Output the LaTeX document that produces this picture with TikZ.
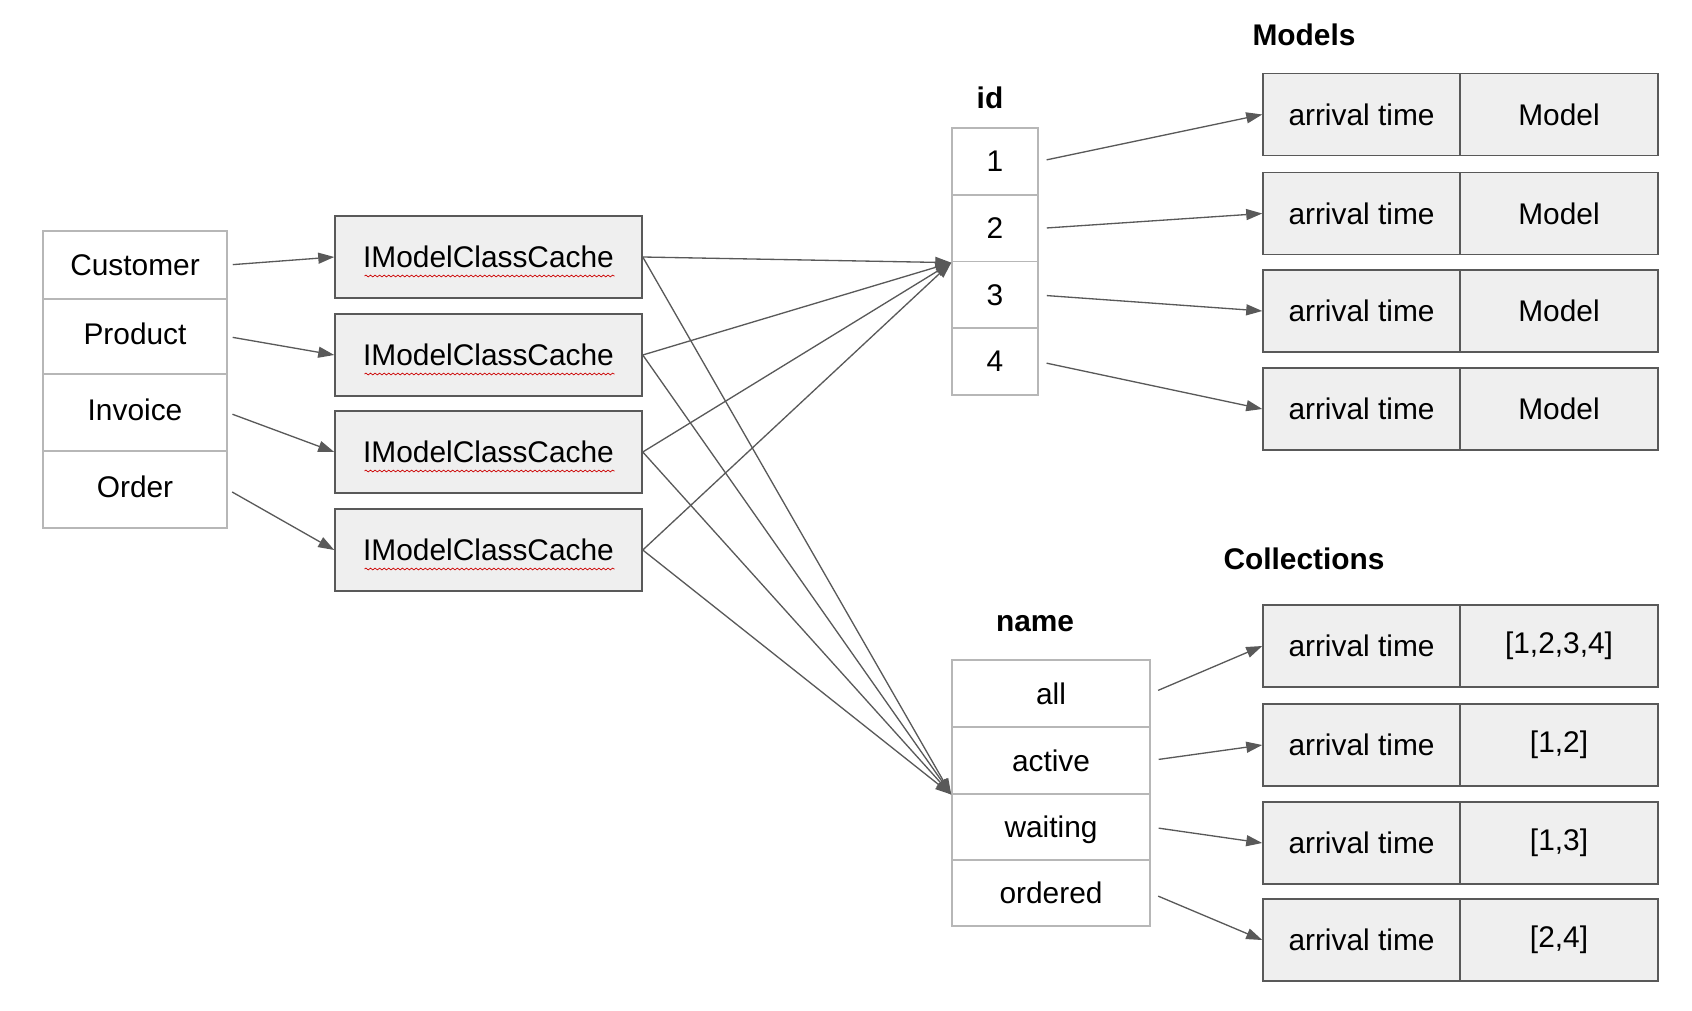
\documentclass[tikz,border=0pt]{standalone}
\usepackage{fontspec}
\setmainfont{Liberation Sans}
\usetikzlibrary{arrows.meta,decorations.pathmorphing}
\definecolor{linegray}{HTML}{595959}
\definecolor{cellgray}{HTML}{B7B7B7}
\definecolor{boxfill}{HTML}{EFEFEF}

\begin{document}
\begin{tikzpicture}[x=0.02cm, y=-0.02cm, font=\fontsize{17}{20}\selectfont,
	cell/.style={draw=cellgray, line width=0.9pt, fill=white, inner sep=0pt},
	box/.style={draw=linegray, line width=0.9pt, fill=boxfill, inner sep=0pt, minimum height=1.64cm},
	heading/.style={font=\fontsize{17}{20}\selectfont\bfseries},
	arr/.style={draw=linegray, line width=0.75pt, -{Triangle[length=0.32cm,width=0.22cm]}},
	squiggle/.style={draw=red!80!black, line width=0.4pt, decorate, decoration={snake, amplitude=0.5pt, segment length=2.6pt}}]
	\useasboundingbox (0,0) rectangle (1692,1010);
	% classes
	\node[cell, minimum width=3.68cm, minimum height=1.36cm] (customer) at (135,265) {Customer};
	\node[cell, minimum width=3.68cm, minimum height=1.5cm, text depth=0.3em] (product) at (135,336.5) {Product};
	\node[cell, minimum width=3.68cm, minimum height=1.54cm, text depth=0.3em] (invoice) at (135,412.5) {Invoice};
	\node[cell, minimum width=3.68cm, minimum height=1.54cm, text depth=0.3em] (order) at (135,489.5) {Order};
	% caches
	\foreach \i/\y in {1/257,2/355,3/452,4/550}{
		\node[box, minimum width=6.14cm] (cache\i) at (488.5,\y) {IModelClassCache};
		\draw[squiggle] ([shift={(-124,19)}]cache\i.center) -- ++(250,0);
	}
	% id index
	\node[heading] (idtitle) at (990,98) {id};
	\foreach \i/\y in {1/161.5,2/228.5,3/295,4/361.5}
		\node[cell, minimum width=1.72cm, minimum height=1.335cm] (id\i) at (995,\y) {\i};
	% models
	\node[heading] (models) at (1304,35) {Models};
	\foreach \i/\y in {1/114.5,2/213.5,3/311,4/409}{
		\node[box, minimum width=3.94cm] (mtime\i) at (1361.5,\y) {arrival time};
		\node[box, minimum width=3.96cm] (model\i) at (1559,\y) {Model};
	}
	% name index
	\node[heading] (nametitle) at (1035,624) {name};
	\foreach \n/\y in {all/693.5,active/760.5,waiting/827,ordered/893}
		\node[cell, minimum width=3.96cm, minimum height=1.33cm, text depth=0pt] (\n) at (1051,\y) {\n};
	% collections
	\node[heading] (collections) at (1304,559) {Collections};
	\foreach \i/\y/\v in {1/646/{[1,2,3,4]},2/745/{[1,2]},3/843/{[1,3]},4/940/{[2,4]}}{
		\node[box, minimum width=3.94cm] (ctime\i) at (1361.5,\y) {arrival time};
		\node[box, minimum width=3.96cm] (coll\i) at (1559,\y) {\v};
	}
	% arrows
	\foreach \a/\b in {customer/cache1,product/cache2,invoice/cache3,order/cache4}
		\draw[arr, shorten <=0.1cm] (\a.east) -- (\b.west);
	\foreach \i in {1,...,4}{
		\draw[arr] (cache\i.east) -- (id2.south west);
		\draw[arr] (cache\i.east) -- (active.south west);
		\draw[arr, shorten <=0.16cm] (id\i.east) -- (mtime\i.west);
	}
	\foreach \n/\i in {all/1,active/2,waiting/3,ordered/4}
		\draw[arr, shorten <=0.16cm] (\n.east) -- (ctime\i.west);
\end{tikzpicture}
\end{document}
